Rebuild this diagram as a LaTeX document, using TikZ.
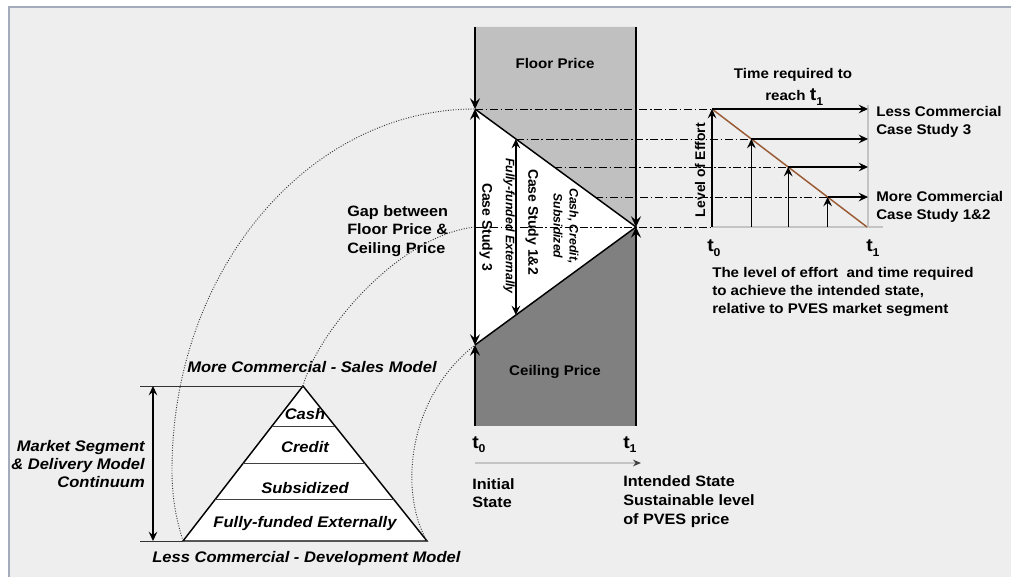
\documentclass[tikz,border=0pt]{standalone}
\usepackage{fontspec}
\setmainfont[FakeStretch=1.08]{Liberation Sans}
\newfontfamily\rotfont{Liberation Sans}
\usetikzlibrary{arrows.meta,calc}
\definecolor{bgc}{HTML}{EEEEEE}
\definecolor{framec}{HTML}{A4ACBC}
\definecolor{floorc}{HTML}{C0C0C0}
\definecolor{ceilc}{HTML}{808080}
\definecolor{diagc}{HTML}{9A5B34}
\definecolor{axisc}{HTML}{C4C4C4}
\newcommand\myfa{\fontsize{10.5}{13.5}\selectfont\bfseries}
\newcommand\myfb{\fontsize{11.25}{14}\selectfont\bfseries}
\newcommand\myfl{\fontsize{11.5}{13.2}\selectfont\bfseries\itshape}
\newcommand\tsub[1]{{\fontsize{13.5}{13.5}\selectfont t}\raisebox{-3.7pt}{\fontsize{8.5}{8.5}\selectfont #1}}
\tikzset{
  lbl/.style={inner sep=0pt, font=\myfa},
  lblb/.style={inner sep=0pt, font=\myfb},
  lbll/.style={inner sep=0pt, font=\myfl},
  rotlbl/.style={inner sep=0pt, font=\rotfont\bfseries\fontsize{10.5}{12}\selectfont},
  rotit/.style={inner sep=0pt, font=\rotfont\bfseries\itshape\fontsize{9.2}{12}\selectfont},
  vtip/.tip={Stealth[length=8pt,width=7.5pt,inset=3pt]},
  gtip/.tip={Stealth[length=7pt,width=6.5pt,inset=2.6pt]},
  edgeline/.style={line width=1.9pt, black},
  triedge/.style={line width=1.1pt, black},
  ddline/.style={line width=0.65pt, black, dash pattern=on 6pt off 2pt on 1.2pt off 2pt},
  dotline/.style={line width=0.7pt, black!80, dash pattern=on 0.7pt off 1.2pt},
  garrow/.style={line width=1pt, black, -gtip},
  thinline/.style={line width=0.7pt, black!80},
}
\begin{document}
\begin{tikzpicture}[x=0.75pt,y=-0.75pt]
\useasboundingbox (0,0) rectangle (1011,577);
\fill[white] (0,0) rectangle (1011,577);
\fill[bgc] (9,7) rectangle (1011,577);
\draw[framec, line width=1.5pt] (9,577) -- (9,7) -- (1011,7);

% ---- central price column ----
\coordinate (rtl) at (475,27);
\coordinate (rtr) at (636,27);
\coordinate (rbl) at (475,426);
\coordinate (rbr) at (636,426);
\coordinate (tv) at (475,109);
\coordinate (ap) at (636,227);
\coordinate (bv) at (475,345);
\coordinate (ml) at (475,227);

\fill[floorc] (rtl) -- (rtr) -- (ap) -- (tv) -- cycle;
\fill[ceilc] (bv) -- (ap) -- (rbr) -- (rbl) -- cycle;
\fill[white] (tv) -- (ap) -- (bv) -- cycle;
\draw[triedge] (tv) -- (ap) -- (bv);

% ---- right graph ----
\coordinate (g0) at (712,109);
\coordinate (g1) at (867,227);
\coordinate (o) at (712,227);
\coordinate (xend) at (883,227);
\coordinate (rx) at (868,109);
\coordinate (rxt) at (868,105);

\foreach \t/\n in {0.254/1, 0.4915/2, 0.746/3}{
  \coordinate (e\n) at ($(tv)!\t!(ap)$);
  \coordinate (f\n) at ($(bv)!\t!(ap)$);
  \coordinate (p\n) at ($(g0)!\t!(g1)$);
}

% dash-dot guide lines
\draw[ddline] (tv) -- (g0);
\draw[ddline] (e1) -- (p1);
\draw[ddline] (e2) -- (p2);
\draw[ddline] (e3) -- (p3);
\draw[ddline] (ml) -- (o);

% thick edges with arrows
\draw[edgeline, -vtip] (rtl) -- (tv);
\draw[edgeline, -vtip] (rbl) -- (bv);
\draw[edgeline, -vtip] (rtr) -- (ap);
\draw[edgeline, -vtip] (rbr) -- (ap);
\draw[edgeline, vtip-vtip] (tv) -- (bv);
\draw[line width=1.1pt, gtip-gtip] (e1) -- (f1);

\node[lbl] (floor) at (555,63) {Floor Price};
\node[lbl] (ceil) at (555,372) {Ceiling Price};
\node[rotlbl, rotate=-90] (cs3) at (486,227) {Case Study 3};
\node[rotit, rotate=-90] (ffe) at (509,226) {Fully-funded Externally};
\node[rotlbl, rotate=-90] (cs12) at (532,222) {Case Study 1\&2};
\node[rotit, rotate=-90, align=center] (ccs) at (566,226) {Cash, Credit,\\Subsidized};

% graph
\draw[axisc, line width=0.8pt] (o) -- (xend);
\draw[axisc, line width=0.8pt] (rxt) -- (rxt |- o);
\draw[diagc, line width=1.1pt] (g0) -- (g1);
\draw[garrow] (o) -- (g0);
\draw[garrow] (g0) -- (rx);
\draw[garrow] (p1 |- o) -- (p1);
\draw[garrow] (p1) -- (p1 -| rx);
\draw[garrow] (p2 |- o) -- (p2);
\draw[garrow] (p2) -- (p2 -| rx);
\draw[garrow] (p3 |- o) -- (p3);
\draw[garrow] (p3) -- (p3 -| rx);

\node[rotlbl, rotate=90] (loe) at (700,170) {Level of Effort};
\node[lbl] (treq) at (793,75) {Time required to};
\node[lbl, anchor=base west] (reach) at (765,101) {reach \tsub{1}};
\node[lbl, anchor=west, align=left] (lessc) at (876,121.5) {Less Commercial\\Case Study 3};
\node[lbl, anchor=west, align=left] (morec) at (876,206.5) {More Commercial\\Case Study 1\&2};
\node[lbl, anchor=base west] (gt0) at (707,252) {\tsub{0}};
\node[lbl, anchor=base west] (gt1) at (866,252) {\tsub{1}};
\node[lbl, anchor=west, align=left] (capt) at (712,292) {The level of effort~ and time required\\to achieve the intended state,\\relative to PVES market segment};

% time axis under column
\coordinate (ta) at (475,463);
\coordinate (tb) at (641,463);
\draw[axisc, line width=1.2pt, -{Stealth[length=6pt,width=5pt,inset=2pt,color=black!75]}] (ta) -- (tb);
\node[lbl, anchor=base west] (bt0) at (472,448) {\tsub{0}};
\node[lbl, anchor=base west] (bt1) at (623,448) {\tsub{1}};
\node[lblb, anchor=west, align=left] (init) at (472,493) {Initial\\State};
\node[lblb, anchor=west, align=left] (intend) at (623,501.5) {Intended State\\Sustainable level\\of PVES price};

\node[lblb, anchor=west, align=left] (gap) at (347,231) {Gap between\\Floor Price \&\\Ceiling Price};

% ---- pyramid ----
\coordinate (pa) at (303,386);
\coordinate (pl) at (183,541);
\coordinate (pr) at (427,541);
\filldraw[fill=white, line width=1.1pt] (pa) -- (pl) -- (pr) -- cycle;
\foreach \t in {0.258,0.497,0.735}{
  \draw[line width=0.7pt, black!75] ($(pa)!\t!(pl)$) -- ($(pa)!\t!(pr)$);
}
\node[lbll, anchor=base] (cash) at (305,419.5) {Cash};
\node[lbll, anchor=base] (credit) at (305,452.5) {Credit};
\node[lbll, anchor=base] (subs) at (305,493.5) {Subsidized};
\node[lbll, anchor=base] (fully) at (305,527.5) {Fully-funded Externally};

\coordinate (mt) at (140,386);
\coordinate (mb) at (140,541);
\coordinate (at) at (153,386);
\coordinate (ab) at (153,541);
\draw[thinline] (mt) -- (pa);
\draw[thinline] (mb) -- (pl);
\draw[line width=1pt, gtip-gtip] (at) -- (ab);
\node[lbll, anchor=base west] (morecs) at (187,373) {More Commercial - Sales Model};
\node[lbll, anchor=base west] (lesscd) at (152,562) {Less Commercial - Development Model};
\node[lbll, anchor=east, align=right] (mseg) at (145,464) {Market Segment\\\& Delivery Model\\Continuum};

% ---- dotted arcs ----
\coordinate (lft) at (172,470);
\draw[dotline] (pl) .. controls (175,515) and (172,495) .. (lft) .. controls (172,271) and (308,109) .. (tv);
\draw[dotline] (pa) .. controls (318,330) and (400,235) .. (ml);
\draw[dotline] (pr) .. controls (400,495) and (405,400) .. (bv);
\end{tikzpicture}
\end{document}
